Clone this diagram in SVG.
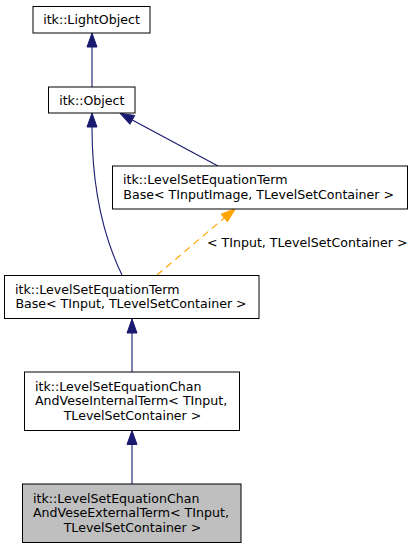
<svg xmlns="http://www.w3.org/2000/svg" width="413" height="549" viewBox="0 0 413 549">
<style>
  .box { fill: #ffffff; stroke: #000000; stroke-width: 1; }
  .cur { fill: #bfbfbf; stroke: #000000; stroke-width: 1; }
  text { font-family: "DejaVu Sans", sans-serif; font-size: 12.6px; fill: #000000; }
  .c { text-anchor: middle; }
  .edge { fill: none; stroke: #191970; stroke-width: 1.1; }
  .head { fill: #191970; stroke: #191970; stroke-width: 1; }
  .tpl { fill: none; stroke: #ffa500; stroke-width: 1.1; stroke-dasharray: 7,5; }
  .thead { fill: #ffa500; stroke: #ffa500; stroke-width: 1; }
</style>
<rect width="413" height="549" fill="#ffffff"/>
<g id="connectors">
  <path class="edge" d="M92,87 L92,47"/>
  <polygon class="head" points="92,33 97,47 87,47"/>
  <path class="edge" d="M218,166 L132.3,119.9"/>
  <polygon class="head" points="120,113.3 134.7,115.5 129.9,124.3"/>
  <path class="edge" d="M122,275 C106,242 92,195 92,127"/>
  <polygon class="head" points="92,113 97,127 87,127"/>
  <path class="tpl" d="M157,275 L224.3,218"/>
  <polygon class="thead" points="235.5,208.5 227.5,221.8 221.1,214.2"/>
  <text x="207" y="246.5">&lt; TInput, TLevelSetContainer &gt;</text>
  <path class="edge" d="M132,372 L132,333"/>
  <polygon class="head" points="132,319 137,333 127,333"/>
  <path class="edge" d="M132,484 L132,444.5"/>
  <polygon class="head" points="132,430.5 137,444.5 127,444.5"/>
</g>
<g id="node-lightobject">
  <rect class="box" x="33" y="6.5" width="117" height="26.5"/>
  <text class="c" x="91.5" y="24">itk::LightObject</text>
</g>
<g id="node-object">
  <rect class="box" x="48.5" y="87" width="86.5" height="26"/>
  <text class="c" x="91.8" y="104.5">itk::Object</text>
</g>
<g id="node-termbase-image">
  <rect class="box" x="112.5" y="166" width="295" height="43"/>
  <text x="123" y="184.3">itk::LevelSetEquationTerm</text>
  <text class="c" x="258.7" y="199">Base&lt; TInputImage, TLevelSetContainer &gt;</text>
</g>
<g id="node-termbase">
  <rect class="box" x="4.5" y="275.5" width="254.5" height="43"/>
  <text x="15" y="293.6">itk::LevelSetEquationTerm</text>
  <text class="c" x="131" y="308.3">Base&lt; TInput, TLevelSetContainer &gt;</text>
</g>
<g id="node-internal">
  <rect class="box" x="24.5" y="372" width="215" height="58.5"/>
  <text x="35" y="390.5">itk::LevelSetEquationChan</text>
  <text x="35" y="405.3">AndVeseInternalTerm&lt; TInput,</text>
  <text class="c" x="132.5" y="420">TLevelSetContainer &gt;</text>
</g>
<g id="node-external">
  <rect class="cur" x="22.5" y="484" width="218.5" height="58.5"/>
  <text x="33" y="502.5">itk::LevelSetEquationChan</text>
  <text x="33" y="517.3">AndVeseExternalTerm&lt; TInput,</text>
  <text class="c" x="132.5" y="532">TLevelSetContainer &gt;</text>
</g>
</svg>
